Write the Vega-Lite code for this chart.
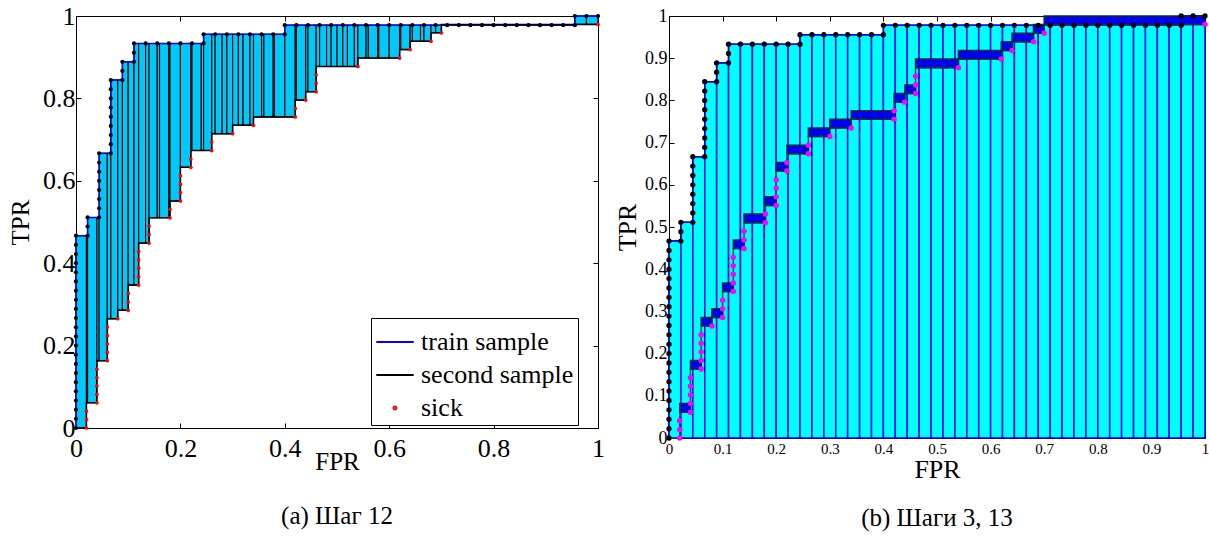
{
  "$schema": "https://vega.github.io/schema/vega-lite/v6.json",
  "padding": {"left": 8, "top": 2, "right": 2, "bottom": 0},
  "background": "white",
  "spacing": 9,
  "config": {
    "view": {"stroke": "black", "strokeWidth": 1},
    "font": "Liberation Serif",
    "axis": {"grid": false, "labelFont": "Liberation Serif", "titleFont": "Liberation Serif", "titleFontWeight": "normal", "labelColor": "black", "titleColor": "black", "domainColor": "black", "tickColor": "black", "labelFlush": false, "labelOverlap": false, "tickSize": -5, "domainWidth": 1},
    "title": {"font": "Liberation Serif", "fontWeight": "normal", "color": "black"}
  },
  "resolve": {"legend": {"color": "independent", "shape": "independent"}},
  "datasets": {
    "upper": [
      {"x":0,"y":0},{"x":0,"y":0.0222},{"x":0,"y":0.0444},{"x":0,"y":0.0667},{"x":0,"y":0.0889},{"x":0,"y":0.1111},{"x":0,"y":0.1333},{"x":0,"y":0.1556},{"x":0,"y":0.1778},{"x":0,"y":0.2},{"x":0,"y":0.2222},{"x":0,"y":0.2444},{"x":0,"y":0.2667},{"x":0,"y":0.2889},{"x":0,"y":0.3111},{"x":0,"y":0.3333},{"x":0,"y":0.3556},{"x":0,"y":0.3778},{"x":0,"y":0.4},{"x":0,"y":0.4222},{"x":0,"y":0.4444},{"x":0,"y":0.4667},
      {"x":0.0222,"y":0.4667},{"x":0.0222,"y":0.4889},{"x":0.0222,"y":0.5111},
      {"x":0.0444,"y":0.5111},{"x":0.0444,"y":0.5333},{"x":0.0444,"y":0.5556},{"x":0.0444,"y":0.5778},{"x":0.0444,"y":0.6},{"x":0.0444,"y":0.6222},{"x":0.0444,"y":0.6444},{"x":0.0444,"y":0.6667},
      {"x":0.0667,"y":0.6667},{"x":0.0667,"y":0.6889},{"x":0.0667,"y":0.7111},{"x":0.0667,"y":0.7333},{"x":0.0667,"y":0.7556},{"x":0.0667,"y":0.7778},{"x":0.0667,"y":0.8},{"x":0.0667,"y":0.8222},{"x":0.0667,"y":0.8444},
      {"x":0.0889,"y":0.8444},{"x":0.0889,"y":0.8667},{"x":0.0889,"y":0.8889},
      {"x":0.1111,"y":0.8889},{"x":0.1111,"y":0.9111},{"x":0.1111,"y":0.9333},
      {"x":0.1333,"y":0.9333},{"x":0.1556,"y":0.9333},{"x":0.1778,"y":0.9333},{"x":0.2,"y":0.9333},{"x":0.2222,"y":0.9333},
      {"x":0.2444,"y":0.9333},{"x":0.2444,"y":0.9556},
      {"x":0.2667,"y":0.9556},{"x":0.2889,"y":0.9556},{"x":0.3111,"y":0.9556},{"x":0.3333,"y":0.9556},{"x":0.3556,"y":0.9556},{"x":0.3778,"y":0.9556},
      {"x":0.4,"y":0.9556},{"x":0.4,"y":0.9778},
      {"x":0.4222,"y":0.9778},{"x":0.4444,"y":0.9778},{"x":0.4667,"y":0.9778},{"x":0.4889,"y":0.9778},{"x":0.5111,"y":0.9778},{"x":0.5333,"y":0.9778},{"x":0.5556,"y":0.9778},{"x":0.5778,"y":0.9778},{"x":0.6,"y":0.9778},{"x":0.6222,"y":0.9778},{"x":0.6444,"y":0.9778},{"x":0.6667,"y":0.9778},{"x":0.6889,"y":0.9778},{"x":0.7111,"y":0.9778},{"x":0.7333,"y":0.9778},{"x":0.7556,"y":0.9778},{"x":0.7778,"y":0.9778},{"x":0.8,"y":0.9778},{"x":0.8222,"y":0.9778},{"x":0.8444,"y":0.9778},{"x":0.8667,"y":0.9778},{"x":0.8889,"y":0.9778},{"x":0.9111,"y":0.9778},{"x":0.9333,"y":0.9778},
      {"x":0.9556,"y":0.9778},{"x":0.9556,"y":1},{"x":0.9778,"y":1},{"x":1,"y":1}
    ],
    "lower": [
      {"x":0,"y":0},{"x":0.02,"y":0},{"x":0.02,"y":0.0612},{"x":0.04,"y":0.0612},{"x":0.04,"y":0.1633},{"x":0.06,"y":0.1633},{"x":0.06,"y":0.2653},{"x":0.08,"y":0.2653},{"x":0.08,"y":0.2857},{"x":0.1,"y":0.2857},{"x":0.1,"y":0.3469},{"x":0.12,"y":0.3469},{"x":0.12,"y":0.449},{"x":0.14,"y":0.449},{"x":0.14,"y":0.5102},{"x":0.18,"y":0.5102},{"x":0.18,"y":0.551},{"x":0.2,"y":0.551},{"x":0.2,"y":0.6327},{"x":0.22,"y":0.6327},{"x":0.22,"y":0.6735},{"x":0.26,"y":0.6735},{"x":0.26,"y":0.7143},{"x":0.3,"y":0.7143},{"x":0.3,"y":0.7347},{"x":0.34,"y":0.7347},{"x":0.34,"y":0.7551},{"x":0.42,"y":0.7551},{"x":0.42,"y":0.7959},{"x":0.44,"y":0.7959},{"x":0.44,"y":0.8163},{"x":0.46,"y":0.8163},{"x":0.46,"y":0.8776},{"x":0.54,"y":0.8776},{"x":0.54,"y":0.898},{"x":0.62,"y":0.898},{"x":0.62,"y":0.9184},{"x":0.64,"y":0.9184},{"x":0.64,"y":0.9388},{"x":0.68,"y":0.9388},{"x":0.68,"y":0.9592},{"x":0.7,"y":0.9592},{"x":0.7,"y":0.9796},{"x":1,"y":0.9796}
    ],
    "sick": [
      {"x":0.02,"y":0},{"x":0.02,"y":0.0204},{"x":0.02,"y":0.0408},
      {"x":0.04,"y":0.0612},{"x":0.04,"y":0.0816},{"x":0.04,"y":0.102},{"x":0.04,"y":0.1224},{"x":0.04,"y":0.1429},
      {"x":0.06,"y":0.1633},{"x":0.06,"y":0.1837},{"x":0.06,"y":0.2041},{"x":0.06,"y":0.2245},{"x":0.06,"y":0.2449},
      {"x":0.08,"y":0.2653},
      {"x":0.1,"y":0.2857},{"x":0.1,"y":0.3061},{"x":0.1,"y":0.3265},
      {"x":0.12,"y":0.3469},{"x":0.12,"y":0.3673},{"x":0.12,"y":0.3878},{"x":0.12,"y":0.4082},{"x":0.12,"y":0.4286},
      {"x":0.14,"y":0.449},{"x":0.14,"y":0.4694},{"x":0.14,"y":0.4898},
      {"x":0.18,"y":0.5102},{"x":0.18,"y":0.5306},
      {"x":0.2,"y":0.551},{"x":0.2,"y":0.5714},{"x":0.2,"y":0.5918},{"x":0.2,"y":0.6122},
      {"x":0.22,"y":0.6327},{"x":0.22,"y":0.6531},
      {"x":0.26,"y":0.6735},{"x":0.26,"y":0.6939},
      {"x":0.3,"y":0.7143},
      {"x":0.34,"y":0.7347},
      {"x":0.42,"y":0.7551},{"x":0.42,"y":0.7755},
      {"x":0.44,"y":0.7959},
      {"x":0.46,"y":0.8163},{"x":0.46,"y":0.8367},{"x":0.46,"y":0.8571},
      {"x":0.54,"y":0.8776},
      {"x":0.62,"y":0.898},
      {"x":0.64,"y":0.9184},
      {"x":0.68,"y":0.9388},
      {"x":0.7,"y":0.9592},
      {"x":1,"y":0.9796}
    ],
    "bandsA": [
      {"a":0,"b":0.02,"lo":0,"hi":0.4667},
      {"a":0.02,"b":0.0222,"lo":0.0612,"hi":0.4667},
      {"a":0.0222,"b":0.04,"lo":0.0612,"hi":0.5111},
      {"a":0.04,"b":0.0444,"lo":0.1633,"hi":0.5111},
      {"a":0.0444,"b":0.06,"lo":0.1633,"hi":0.6667},
      {"a":0.06,"b":0.0667,"lo":0.2653,"hi":0.6667},
      {"a":0.0667,"b":0.08,"lo":0.2653,"hi":0.8444},
      {"a":0.08,"b":0.0889,"lo":0.2857,"hi":0.8444},
      {"a":0.0889,"b":0.1,"lo":0.2857,"hi":0.8889},
      {"a":0.1,"b":0.1111,"lo":0.3469,"hi":0.8889},
      {"a":0.1111,"b":0.12,"lo":0.3469,"hi":0.9333},
      {"a":0.12,"b":0.1333,"lo":0.449,"hi":0.9333},
      {"a":0.1333,"b":0.14,"lo":0.449,"hi":0.9333},
      {"a":0.14,"b":0.1556,"lo":0.5102,"hi":0.9333},
      {"a":0.1556,"b":0.16,"lo":0.5102,"hi":0.9333},
      {"a":0.16,"b":0.1778,"lo":0.5102,"hi":0.9333},
      {"a":0.1778,"b":0.18,"lo":0.5102,"hi":0.9333},
      {"a":0.18,"b":0.2,"lo":0.551,"hi":0.9333},
      {"a":0.2,"b":0.22,"lo":0.6327,"hi":0.9333},
      {"a":0.22,"b":0.2222,"lo":0.6735,"hi":0.9333},
      {"a":0.2222,"b":0.24,"lo":0.6735,"hi":0.9333},
      {"a":0.24,"b":0.2444,"lo":0.6735,"hi":0.9333},
      {"a":0.2444,"b":0.26,"lo":0.6735,"hi":0.9556},
      {"a":0.26,"b":0.2667,"lo":0.7143,"hi":0.9556},
      {"a":0.2667,"b":0.28,"lo":0.7143,"hi":0.9556},
      {"a":0.28,"b":0.2889,"lo":0.7143,"hi":0.9556},
      {"a":0.2889,"b":0.3,"lo":0.7143,"hi":0.9556},
      {"a":0.3,"b":0.3111,"lo":0.7347,"hi":0.9556},
      {"a":0.3111,"b":0.32,"lo":0.7347,"hi":0.9556},
      {"a":0.32,"b":0.3333,"lo":0.7347,"hi":0.9556},
      {"a":0.3333,"b":0.34,"lo":0.7347,"hi":0.9556},
      {"a":0.34,"b":0.3556,"lo":0.7551,"hi":0.9556},
      {"a":0.3556,"b":0.36,"lo":0.7551,"hi":0.9556},
      {"a":0.36,"b":0.3778,"lo":0.7551,"hi":0.9556},
      {"a":0.3778,"b":0.38,"lo":0.7551,"hi":0.9556},
      {"a":0.38,"b":0.4,"lo":0.7551,"hi":0.9556},
      {"a":0.4,"b":0.42,"lo":0.7551,"hi":0.9778},
      {"a":0.42,"b":0.4222,"lo":0.7959,"hi":0.9778},
      {"a":0.4222,"b":0.44,"lo":0.7959,"hi":0.9778},
      {"a":0.44,"b":0.4444,"lo":0.8163,"hi":0.9778},
      {"a":0.4444,"b":0.46,"lo":0.8163,"hi":0.9778},
      {"a":0.46,"b":0.4667,"lo":0.8776,"hi":0.9778},
      {"a":0.4667,"b":0.48,"lo":0.8776,"hi":0.9778},
      {"a":0.48,"b":0.4889,"lo":0.8776,"hi":0.9778},
      {"a":0.4889,"b":0.5,"lo":0.8776,"hi":0.9778},
      {"a":0.5,"b":0.5111,"lo":0.8776,"hi":0.9778},
      {"a":0.5111,"b":0.52,"lo":0.8776,"hi":0.9778},
      {"a":0.52,"b":0.5333,"lo":0.8776,"hi":0.9778},
      {"a":0.5333,"b":0.54,"lo":0.8776,"hi":0.9778},
      {"a":0.54,"b":0.5556,"lo":0.898,"hi":0.9778},
      {"a":0.5556,"b":0.56,"lo":0.898,"hi":0.9778},
      {"a":0.56,"b":0.5778,"lo":0.898,"hi":0.9778},
      {"a":0.5778,"b":0.58,"lo":0.898,"hi":0.9778},
      {"a":0.58,"b":0.6,"lo":0.898,"hi":0.9778},
      {"a":0.6,"b":0.62,"lo":0.898,"hi":0.9778},
      {"a":0.62,"b":0.6222,"lo":0.9184,"hi":0.9778},
      {"a":0.6222,"b":0.64,"lo":0.9184,"hi":0.9778},
      {"a":0.64,"b":0.6444,"lo":0.9388,"hi":0.9778},
      {"a":0.6444,"b":0.66,"lo":0.9388,"hi":0.9778},
      {"a":0.66,"b":0.6667,"lo":0.9388,"hi":0.9778},
      {"a":0.6667,"b":0.68,"lo":0.9388,"hi":0.9778},
      {"a":0.68,"b":0.6889,"lo":0.9592,"hi":0.9778},
      {"a":0.6889,"b":0.7,"lo":0.9592,"hi":0.9778},
      {"a":0.9556,"b":0.9778,"lo":0.9796,"hi":1},
      {"a":0.9778,"b":1,"lo":0.9796,"hi":1}
    ],
    "barsB": [
      {"a":0,"b":0.0222,"hi":0.4667},{"a":0.0222,"b":0.0444,"hi":0.5111},{"a":0.0444,"b":0.0667,"hi":0.6667},{"a":0.0667,"b":0.0889,"hi":0.8444},{"a":0.0889,"b":0.1111,"hi":0.8889},
      {"a":0.1111,"b":0.1333,"hi":0.9333},{"a":0.1333,"b":0.1556,"hi":0.9333},{"a":0.1556,"b":0.1778,"hi":0.9333},{"a":0.1778,"b":0.2,"hi":0.9333},{"a":0.2,"b":0.2222,"hi":0.9333},{"a":0.2222,"b":0.2444,"hi":0.9333},
      {"a":0.2444,"b":0.2667,"hi":0.9556},{"a":0.2667,"b":0.2889,"hi":0.9556},{"a":0.2889,"b":0.3111,"hi":0.9556},{"a":0.3111,"b":0.3333,"hi":0.9556},{"a":0.3333,"b":0.3556,"hi":0.9556},{"a":0.3556,"b":0.3778,"hi":0.9556},{"a":0.3778,"b":0.4,"hi":0.9556},
      {"a":0.4,"b":0.4222,"hi":0.9778},{"a":0.4222,"b":0.4444,"hi":0.9778},{"a":0.4444,"b":0.4667,"hi":0.9778},{"a":0.4667,"b":0.4889,"hi":0.9778},{"a":0.4889,"b":0.5111,"hi":0.9778},{"a":0.5111,"b":0.5333,"hi":0.9778},{"a":0.5333,"b":0.5556,"hi":0.9778},{"a":0.5556,"b":0.5778,"hi":0.9778},{"a":0.5778,"b":0.6,"hi":0.9778},{"a":0.6,"b":0.6222,"hi":0.9778},{"a":0.6222,"b":0.6444,"hi":0.9778},{"a":0.6444,"b":0.6667,"hi":0.9778},{"a":0.6667,"b":0.6889,"hi":0.9778},{"a":0.6889,"b":0.7111,"hi":0.9778},{"a":0.7111,"b":0.7333,"hi":0.9778},{"a":0.7333,"b":0.7556,"hi":0.9778},{"a":0.7556,"b":0.7778,"hi":0.9778},{"a":0.7778,"b":0.8,"hi":0.9778},{"a":0.8,"b":0.8222,"hi":0.9778},{"a":0.8222,"b":0.8444,"hi":0.9778},{"a":0.8444,"b":0.8667,"hi":0.9778},{"a":0.8667,"b":0.8889,"hi":0.9778},{"a":0.8889,"b":0.9111,"hi":0.9778},{"a":0.9111,"b":0.9333,"hi":0.9778},{"a":0.9333,"b":0.9556,"hi":0.9778},
      {"a":0.9556,"b":0.9778,"hi":1},{"a":0.9778,"b":1,"hi":1}
    ],
    "boxes": [
      {"a":0.02,"b":0.04,"lo":0.0612,"hi":0.0816},
      {"a":0.04,"b":0.06,"lo":0.1633,"hi":0.1837},
      {"a":0.06,"b":0.08,"lo":0.2653,"hi":0.2857},
      {"a":0.08,"b":0.1,"lo":0.2857,"hi":0.3061},
      {"a":0.1,"b":0.12,"lo":0.3469,"hi":0.3673},
      {"a":0.12,"b":0.14,"lo":0.449,"hi":0.4694},
      {"a":0.14,"b":0.18,"lo":0.5102,"hi":0.5306},
      {"a":0.18,"b":0.2,"lo":0.551,"hi":0.5714},
      {"a":0.2,"b":0.22,"lo":0.6327,"hi":0.6531},
      {"a":0.22,"b":0.26,"lo":0.6735,"hi":0.6939},
      {"a":0.26,"b":0.3,"lo":0.7143,"hi":0.7347},
      {"a":0.3,"b":0.34,"lo":0.7347,"hi":0.7551},
      {"a":0.34,"b":0.42,"lo":0.7551,"hi":0.7755},
      {"a":0.42,"b":0.44,"lo":0.7959,"hi":0.8163},
      {"a":0.44,"b":0.46,"lo":0.8163,"hi":0.8367},
      {"a":0.46,"b":0.54,"lo":0.8776,"hi":0.898},
      {"a":0.54,"b":0.62,"lo":0.898,"hi":0.9184},
      {"a":0.62,"b":0.64,"lo":0.9184,"hi":0.9388},
      {"a":0.64,"b":0.68,"lo":0.9388,"hi":0.9592},
      {"a":0.68,"b":0.7,"lo":0.9592,"hi":0.9796},
      {"a":0.7,"b":1,"lo":0.9796,"hi":1}
    ],
    "legendRows": [
      {"series":"train sample"},{"series":"second sample"},{"series":"sick"}
    ]
  },
  "hconcat": [
    {
      "width": 522,
      "height": 412,
      "title": {"text": "(a) Шаг 12", "orient": "bottom", "fontSize": 25, "frame": "group", "anchor": "middle", "offset": 30},
      "resolve": {"axis": {"x": "independent", "y": "independent"}},
      "layer": [
        {
          "data": {"name": "bandsA"},
          "mark": {"type": "rect", "fill": "#00C8F8", "stroke": "black", "strokeWidth": 1.1},
          "encoding": {
            "x": {"field": "a", "type": "quantitative", "scale": {"domain": [0, 1], "nice": false, "zero": false},
                  "axis": {"orient": "bottom", "title": "FPR", "values": [0, 0.2, 0.4, 0.6, 0.8, 1], "format": "~g", "labelFontSize": 26, "titleFontSize": 25, "labelPadding": 12, "titlePadding": -12}},
            "x2": {"field": "b"},
            "y": {"field": "lo", "type": "quantitative", "scale": {"domain": [0, 1], "nice": false, "zero": false},
                  "axis": {"orient": "left", "title": "TPR", "values": [0, 0.2, 0.4, 0.6, 0.8, 1], "format": "~g", "labelFontSize": 26, "titleFontSize": 25, "labelPadding": 6, "titlePadding": 9}},
            "y2": {"field": "hi"}
          }
        },
        {
          "data": {"name": "upper"},
          "mark": {"type": "line", "color": "#0000FF", "strokeWidth": 1.5},
          "encoding": {
            "x": {"field": "x", "type": "quantitative", "axis": {"orient": "top", "labels": false, "title": null, "domain": false, "values": [0, 0.2, 0.4, 0.6, 0.8, 1]}},
            "y": {"field": "y", "type": "quantitative", "axis": {"orient": "right", "labels": false, "title": null, "domain": false, "values": [0, 0.2, 0.4, 0.6, 0.8, 1]}},
            "order": [{"field": "x"}, {"field": "y"}]
          }
        },
        {
          "data": {"name": "lower"},
          "mark": {"type": "line", "color": "black", "strokeWidth": 1.5},
          "encoding": {
            "x": {"field": "x", "type": "quantitative", "axis": null},
            "y": {"field": "y", "type": "quantitative", "axis": null},
            "order": [{"field": "x"}, {"field": "y"}]
          }
        },
        {
          "data": {"name": "sick"},
          "mark": {"type": "circle", "color": "#FF0000", "size": 14, "opacity": 1},
          "encoding": {
            "x": {"field": "x", "type": "quantitative", "axis": null},
            "y": {"field": "y", "type": "quantitative", "axis": null}
          }
        },
        {
          "data": {"name": "upper"},
          "mark": {"type": "circle", "color": "black", "size": 18, "opacity": 1},
          "encoding": {
            "x": {"field": "x", "type": "quantitative", "axis": null},
            "y": {"field": "y", "type": "quantitative", "axis": null}
          }
        },
        {
          "data": {"name": "legendRows"},
          "mark": {"type": "point", "filled": false, "clip": true, "strokeWidth": 2, "opacity": 1},
          "encoding": {
            "x": {"datum": -1, "type": "quantitative", "axis": null},
            "y": {"datum": -1, "type": "quantitative", "axis": null},
            "color": {"field": "series", "type": "nominal",
                      "scale": {"domain": ["train sample", "second sample", "sick"], "range": ["#0000FF", "#000000", "#FF0000"]},
                      "legend": {"orient": "none", "legendX": 295, "legendY": 302, "title": null, "fillColor": "white", "strokeColor": "black", "padding": 4, "labelFontSize": 26, "labelFont": "Liberation Serif", "labelColor": "black", "symbolStrokeWidth": 2, "symbolSize": 1400, "rowPadding": 0, "labelOffset": 6}},
            "shape": {"field": "series", "type": "nominal", "scale": {"domain": ["train sample", "second sample", "sick"], "range": ["stroke", "stroke", "M-0.08,0A0.08,0.08,0,1,1,0.08,0A0.08,0.08,0,1,1,-0.08,0Z"]}}
          }
        }
      ]
    },
    {
      "width": 536,
      "height": 422,
      "title": {"text": "(b) Шаги 3, 13", "orient": "bottom", "fontSize": 25, "frame": "group", "anchor": "middle", "offset": 24},
      "resolve": {"axis": {"x": "independent", "y": "independent"}},
      "layer": [
        {
          "data": {"name": "barsB"},
          "mark": {"type": "rect", "fill": "#00FFFF", "stroke": "#0000FF", "strokeWidth": 1.5},
          "encoding": {
            "x": {"field": "a", "type": "quantitative", "scale": {"domain": [0, 1], "nice": false, "zero": false},
                  "axis": {"orient": "bottom", "title": "FPR", "values": [0, 0.1, 0.2, 0.3, 0.4, 0.5, 0.6, 0.7, 0.8, 0.9, 1], "format": "~g", "labelFontSize": 15, "titleFontSize": 26, "labelPadding": 8, "titlePadding": 0}},
            "x2": {"field": "b"},
            "y": {"field": "hi", "type": "quantitative", "scale": {"domain": [0, 1], "nice": false, "zero": false},
                  "axis": {"orient": "left", "title": "TPR", "values": [0, 0.1, 0.2, 0.3, 0.4, 0.5, 0.6, 0.7, 0.8, 0.9, 1], "format": "~g", "labelFontSize": 18, "titleFontSize": 26, "labelPadding": 7, "titlePadding": 4}},
            "y2": {"datum": 0}
          }
        },
        {
          "data": {"name": "upper"},
          "mark": {"type": "line", "color": "#0000FF", "strokeWidth": 1.5},
          "encoding": {
            "x": {"field": "x", "type": "quantitative", "axis": {"orient": "top", "labels": false, "title": null, "domain": false, "values": [0, 0.1, 0.2, 0.3, 0.4, 0.5, 0.6, 0.7, 0.8, 0.9, 1]}},
            "y": {"field": "y", "type": "quantitative", "axis": {"orient": "right", "labels": false, "title": null, "domain": false, "values": [0, 0.1, 0.2, 0.3, 0.4, 0.5, 0.6, 0.7, 0.8, 0.9, 1]}},
            "order": [{"field": "x"}, {"field": "y"}]
          }
        },
        {
          "data": {"name": "lower"},
          "mark": {"type": "line", "color": "#006050", "strokeWidth": 1.5},
          "encoding": {
            "x": {"field": "x", "type": "quantitative", "axis": null},
            "y": {"field": "y", "type": "quantitative", "axis": null},
            "order": [{"field": "x"}, {"field": "y"}]
          }
        },
        {
          "data": {"name": "boxes"},
          "mark": {"type": "rect", "fill": "#0000F0", "stroke": "#003030", "strokeWidth": 1.5},
          "encoding": {
            "x": {"field": "a", "type": "quantitative", "axis": null},
            "x2": {"field": "b"},
            "y": {"field": "lo", "type": "quantitative", "axis": null},
            "y2": {"field": "hi"}
          }
        },
        {
          "data": {"name": "sick"},
          "mark": {"type": "circle", "color": "#FF00FF", "size": 30, "opacity": 1},
          "encoding": {
            "x": {"field": "x", "type": "quantitative", "axis": null},
            "y": {"field": "y", "type": "quantitative", "axis": null}
          }
        },
        {
          "data": {"name": "upper"},
          "mark": {"type": "circle", "color": "black", "size": 28, "opacity": 1},
          "encoding": {
            "x": {"field": "x", "type": "quantitative", "axis": null},
            "y": {"field": "y", "type": "quantitative", "axis": null}
          }
        }
      ]
    }
  ]
}
